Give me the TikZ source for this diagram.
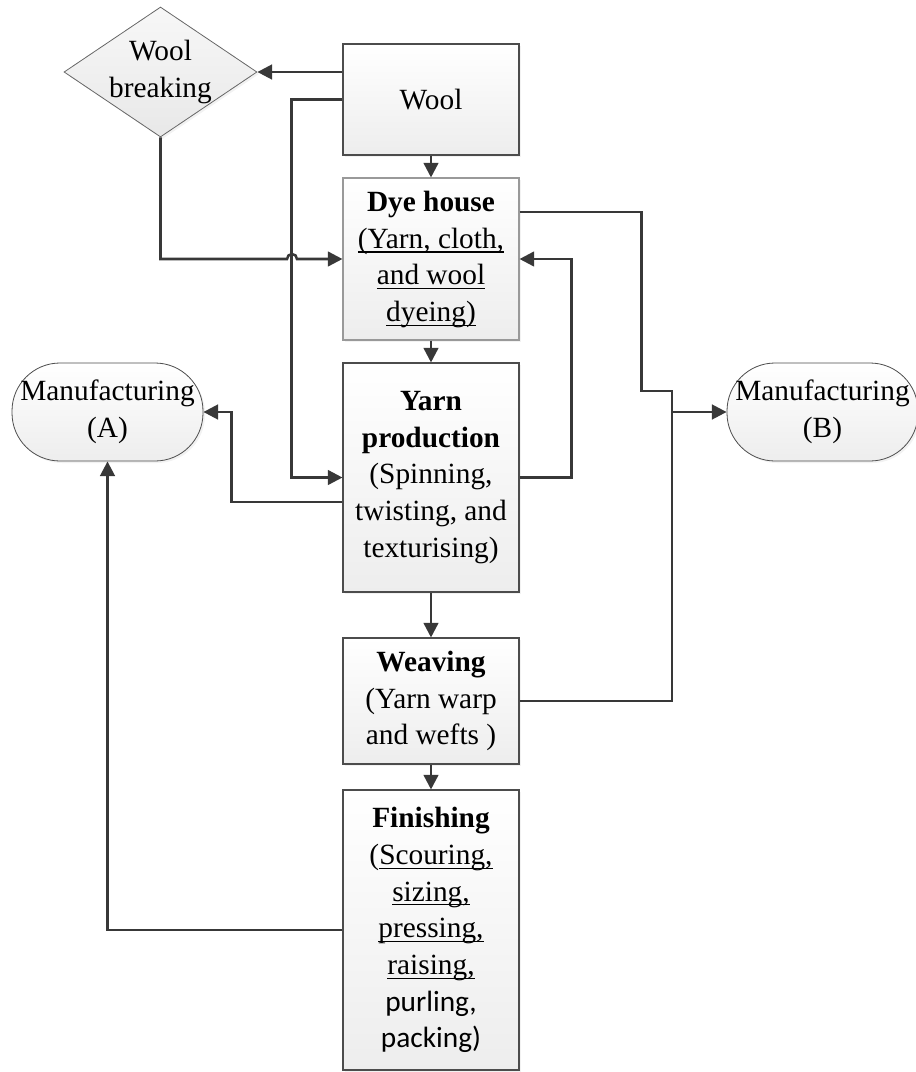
\documentclass[tikz,border=0pt]{standalone}
\usepackage{amsmath}
\usepackage{fontspec}
\setmainfont{Liberation Serif}
\newfontfamily\calibrifont{Carlito}
\usetikzlibrary{arrows.meta,shapes.geometric,shadows}

% underline at a fixed depth, descenders ignored
\newcommand\undl[1]{\underline{\smash[b]{#1}}}

\tikzset{
  proc/.style={draw=black!70,line width=0.8pt,top color=white,bottom color=black!7,
    minimum width=132pt,drop shadow={shadow xshift=1.5pt,shadow yshift=-1.5pt,fill=black!10}},
  term/.style={draw=black!70,line width=0.6pt,top color=white,bottom color=black!7,
    rounded corners=36pt,minimum width=143.25pt,minimum height=73.5pt,
    drop shadow={shadow xshift=1.5pt,shadow yshift=-1.5pt,fill=black!10}},
  dec/.style={diamond,draw=black!60,line width=0.6pt,inner sep=0pt,top color=black!3,bottom color=black!9,
    minimum width=144.75pt,minimum height=97.5pt,
    drop shadow={shadow xshift=1.5pt,shadow yshift=-1.5pt,fill=black!10}},
  arr/.style={draw=black!78,line width=1.9pt,-{Triangle[length=11pt,width=11pt]}},
  wire/.style={draw=black!78,line width=1.9pt},
}

\begin{document}
\begin{tikzpicture}[x=0.75pt,y=-0.75pt,font=\fontsize{22}{27.5}\selectfont,
  every node/.style={align=center,inner sep=1pt}]
\useasboundingbox (0,0) rectangle (915,1072);

% process chain
\node[proc,minimum height=83.25pt] (wool) at (431,99.5) {Wool};
\node[proc,draw=black!40,minimum height=121.5pt] (dye) at (431,259)
  {\textbf{Dye house}\\\undl{(Yarn, cloth,}\\\undl{and wool}\\\undl{dyeing)}};
\node[proc,minimum height=171.75pt] (yarn) at (431,477.5)
  {\textbf{Yarn}\\\textbf{production}\\(Spinning,\\twisting, and\\texturising)};
\node[proc,minimum height=94.5pt] (weave) at (431,701)
  {\textbf{Weaving}\\(Yarn warp\\and wefts )};
\node[proc,minimum height=210pt] (fin) at (431,930)
  {\textbf{Finishing}\\(\undl{Scouring,}\\\undl{sizing,}\\\undl{pressing,}\\\undl{raising,}\\{\calibrifont purling,}\\{\calibrifont packing)}};

% side nodes
\node[dec,label=center:{Wool\\breaking}] (brk) at (160.5,72) {};
\node[term] (mfa) at (107.5,412) {Manufacturing\\(A)};
\node[term] (mfb) at (822.5,412) {Manufacturing\\(B)};

\coordinate (hop) at (292,259);
\coordinate (jn) at (672,412);

% main flow
\draw[arr] (wool.south) -- (dye.north);
\draw[arr] (dye.south) -- (yarn.north);
\draw[arr] (yarn.south) -- (weave.north);
\draw[arr] (weave.south) -- (fin.north);

% wool branches
\draw[arr] (wool.west |- brk.east) -- (brk.east);
\draw[arr] (wool.west) -- ++(-51,0) |- (yarn.west);
\draw[arr] (brk.south) |- ([xshift=-3.75pt]hop)
  arc[start angle=180,end angle=0,radius=3.75pt] -- (dye.west);

% back to dyeing, out to manufacturing
\draw[arr] (yarn.east) -- ++(52,0) |- (dye.east);
\draw[arr] ([yshift=-18.4pt]yarn.west) -- ++(-111,0) |- (mfa.east);
\draw[arr] (fin.west) -| (mfa.south);
\draw[wire] ([yshift=35.25pt]dye.east) -- ++(122,0) -- ++(0,179) -| (jn);
\draw[wire] (weave.east) -| (jn);
\draw[arr] (jn) -- (mfb.west);
\end{tikzpicture}
\end{document}
